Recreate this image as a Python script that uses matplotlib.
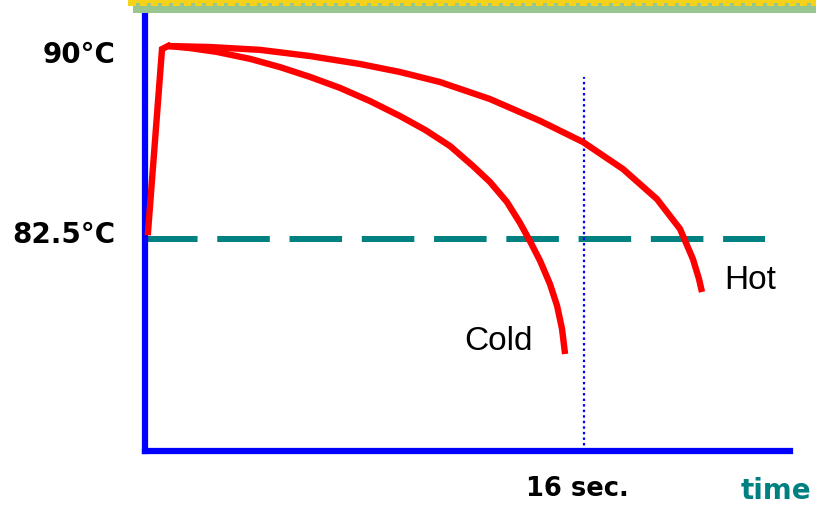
import matplotlib
matplotlib.use("Agg")
import matplotlib.pyplot as plt
from matplotlib.patches import Rectangle

# ---- data (seconds, degrees C) ----
rise_t = [0.11, 0.62, 0.84]
rise_T = [82.77, 89.88, 90.00]

cold_t = [0.84, 1.64, 2.62, 3.83, 4.92, 6.01, 7.11, 8.20, 9.29, 10.21, 11.12,
          11.95, 12.57, 13.19, 13.67, 14.03, 14.40, 14.76, 15.02, 15.20, 15.31]
cold_T = [90.00, 89.92, 89.77, 89.50, 89.18, 88.80, 88.37, 87.86, 87.28, 86.74, 86.11,
          85.34, 84.72, 83.94, 83.12, 82.42, 81.65, 80.75, 79.90, 79.00, 78.03]

hot_t = [0.84, 2.37, 4.19, 6.01, 7.84, 9.29, 10.75, 12.57, 14.40, 15.96,
         17.42, 18.66, 19.50, 19.97, 20.19, 20.30]
hot_T = [90.00, 89.96, 89.85, 89.61, 89.30, 88.99, 88.60, 87.94, 87.09, 86.27,
         85.22, 84.05, 82.89, 81.72, 80.95, 80.44]

threshold_T = 82.5
threshold_end_t = 22.6
mark_t = 16
mark_top_T = 88.8
ytick_vals = [90, 82.5]
ytick_labels = ["90°C", "82.5°C"]
xtick_vals = [16]
xtick_labels = ["16 sec."]
curve_labels = ["Cold", "Hot"]
label_t = [12.9, 22.05]
label_T = [78.57, 80.94]

W, H = 816, 506
fig = plt.figure(figsize=(W / 100, H / 100), dpi=100)
fig.patch.set_facecolor("white")

x0, x1 = 145, 790
y_bot, y_top = 452, 14
ax = fig.add_axes([x0 / W, 1 - y_bot / H, (x1 - x0) / W, (y_bot - y_top) / H])
ax.set_xlim(0, (x1 - x0) / 27.4375)
ax.set_ylim(90 - (y_bot - 47) / 25.733, 90 - (y_top - 47) / 25.733)
ax.set_facecolor("none")

for s in ["top", "right"]:
    ax.spines[s].set_visible(False)
for s in ["left", "bottom"]:
    ax.spines[s].set_color("#0000FF")
    ax.spines[s].set_linewidth(4.5)
    ax.spines[s].set_capstyle("projecting")

red = "#FF0000"
lw = 4.6
ax.plot(rise_t, rise_T, color=red, lw=lw, solid_joinstyle="miter", clip_on=False, zorder=3)
ax.plot(cold_t, cold_T, color=red, lw=lw, solid_joinstyle="round", solid_capstyle="butt",
        clip_on=False, zorder=3)
ax.plot(hot_t, hot_T, color=red, lw=lw, solid_joinstyle="round", solid_capstyle="butt",
        clip_on=False, zorder=3)

ax.plot([0, threshold_end_t], [threshold_T, threshold_T], color="#008080", lw=4.3,
        dashes=(8.8, 3.3), dash_capstyle="butt", zorder=1)
ax.plot([mark_t, mark_t], [ax.get_ylim()[0], mark_top_T], color="#0000FF", lw=1.6,
        linestyle=(0, (1.1, 1.4)), zorder=1)

# ticks: positions from the data, labels drawn with small offsets
ax.set_yticks(ytick_vals)
ax.set_yticklabels([])
ax.set_xticks(xtick_vals)
ax.set_xticklabels([])
ax.tick_params(length=0)

y_offsets = [-6, 3.5]
for v, lab, dy in zip(ytick_vals, ytick_labels, y_offsets):
    ax.annotate(lab, xy=(0, v), xycoords=("axes fraction", "data"),
                xytext=(-21, dy), textcoords="offset points",
                ha="right", va="center", fontsize=20, fontweight="bold",
                family="DejaVu Sans")
for v, lab in zip(xtick_vals, xtick_labels):
    ax.annotate(lab, xy=(v, 0), xycoords=("data", "axes fraction"),
                xytext=(-5, -27), textcoords="offset points",
                ha="center", va="center", fontsize=18.5, fontweight="bold",
                family="DejaVu Sans")

for name, t, T in zip(curve_labels, label_t, label_T):
    ax.text(t, T, name, fontsize=24, family="Liberation Sans", ha="center", va="center")

fig.text(776 / W, 1 - 491 / H, "time", fontsize=20, fontweight="bold", color="#008080",
         family="DejaVu Sans", ha="center", va="center")

# top decorative band
def px_rect(x, y, w, h, color):
    fig.add_artist(Rectangle((x / W, 1 - (y + h) / H), w / W, h / H,
                             transform=fig.transFigure, color=color, lw=0))

px_rect(128, 0, W - 128, 7, "#F5D31A")
px_rect(133, 7, W - 133, 7, "#97C68E")
for xs in range(136, W, 11):
    px_rect(xs, 4, 4, 3, "#97C68E")

fig.savefig("out.png", dpi=100)
